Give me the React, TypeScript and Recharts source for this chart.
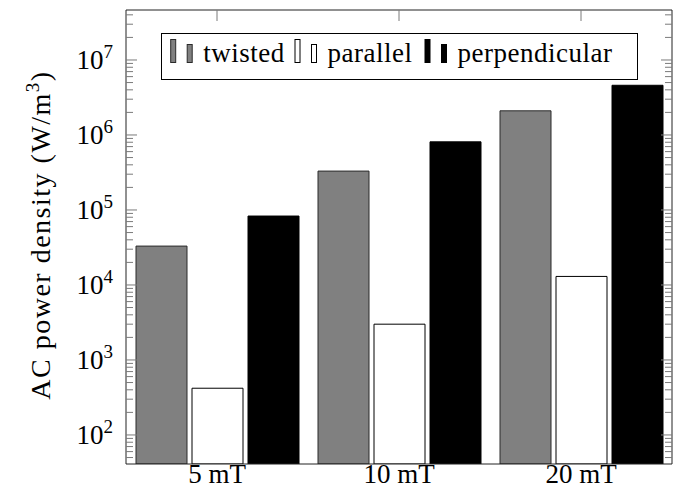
import React from 'react';
import { BarChart, Bar, XAxis, YAxis, Legend } from 'recharts';

const categories = ['5 mT', '10 mT', '20 mT'];
const twistedValues = [3.3e4, 3.3e5, 2.1e6];
const parallelValues = [420, 3.0e3, 1.3e4];
const perpendicularValues = [8.3e4, 8.1e5, 4.6e6];
const majorTicks = [1e2, 1e3, 1e4, 1e5, 1e6, 1e7];
const minorMantissas = [2, 3, 4, 5, 6, 7, 8, 9];
const tickDecades = [1e1, 1e2, 1e3, 1e4, 1e5, 1e6, 1e7];
const yDomain: [number, number] = [41, 4.64e7];

const seriesInfo = [
  { key: 'twisted', name: 'twisted', fill: '#808080', stroke: '#2a2a2a' },
  { key: 'parallel', name: 'parallel', fill: '#ffffff', stroke: '#000000' },
  { key: 'perpendicular', name: 'perpendicular', fill: '#000000', stroke: '#000000' },
];

const data = categories.map((c, i) => ({
  name: c,
  twisted: twistedValues[i],
  parallel: parallelValues[i],
  perpendicular: perpendicularValues[i],
}));

const minorTicks = tickDecades
  .flatMap((d) => minorMantissas.map((m) => m * d))
  .filter((v) => v > yDomain[0] && v < yDomain[1]);
const allTicks = [...majorTicks, ...minorTicks].sort((a, b) => a - b);

const W = 685;
const H = 496;
const MARGIN = { top: 9, right: 12, bottom: 0, left: 0 };
const Y_W = 126;
const X_H = 32;
const PLOT_LEFT = MARGIN.left + Y_W;
const PLOT_RIGHT = W - MARGIN.right - 1;
const PLOT_TOP = MARGIN.top + 1;
const FONT = 'Liberation Serif';
const TICK_COLOR = '#7a7a7a';
const AXIS_COLOR = '#222222';
const LEGEND_X = [9.7, 134, 264];

const YTick = (props: any) => {
  const { y, payload } = props;
  const v = payload.value;
  const isMajor = majorTicks.includes(v);
  const len = isMajor ? 11 : 7;
  const exp = Math.round(Math.log10(v));
  return (
    <g>
      <line x1={PLOT_LEFT} x2={PLOT_LEFT + len} y1={y} y2={y} stroke={TICK_COLOR} strokeWidth={1} />
      <line x1={PLOT_RIGHT - len} x2={PLOT_RIGHT} y1={y} y2={y} stroke={TICK_COLOR} strokeWidth={1} />
      {isMajor && (
        <text x={113} y={y + 9.5} textAnchor="end" fontSize={27} fontFamily={FONT} fill="#000">
          10
          <tspan dy={-11.5} fontSize={19}>
            {exp}
          </tspan>
        </text>
      )}
    </g>
  );
};

const XTick = (props: any) => {
  const { x, payload } = props;
  return (
    <text x={x} y={483} textAnchor="middle" fontSize={27} fontFamily={FONT} fill="#000">
      {payload.value}
    </text>
  );
};

const TopTick = (props: any) => {
  const { x } = props;
  return <line x1={x} x2={x} y1={PLOT_TOP} y2={PLOT_TOP + 11} stroke={TICK_COLOR} strokeWidth={1} />;
};

const YLabel = () => (
  <text
    transform="translate(49.5, 235) rotate(-90)"
    textAnchor="middle"
    fontSize={28}
    fontFamily={FONT}
    letterSpacing={1.5}
    fill="#000"
  >
    AC power density (W/m
    <tspan dy={-11} fontSize={19}>
      3
    </tspan>
    <tspan dy={11}>)</tspan>
  </text>
);

const LegendBox = () => (
  <svg width={478} height={48} style={{ display: 'block' }}>
    <rect x={0.5} y={0.5} width={476} height={46} fill="#fff" stroke="#000" strokeWidth={1} />
    {seriesInfo.map((s, i) => {
      const x0 = LEGEND_X[i];
      return (
        <g key={s.key}>
          <rect x={x0} y={6.5} width={5} height={23} fill={s.fill} stroke={s.stroke} strokeWidth={1} />
          <rect x={x0 + 16.5} y={11.5} width={5} height={18} fill={s.fill} stroke={s.stroke} strokeWidth={1} />
          <text x={x0 + 32.5} y={29.3} fontSize={27} fontFamily={FONT} letterSpacing={0.5} fill="#000">
            {s.name}
          </text>
        </g>
      );
    })}
  </svg>
);

export default function App() {
  return (
    <div style={{ position: 'absolute', left: 0, top: 0, width: W, height: H, background: '#fff' }}>
      <BarChart width={W} height={H} data={data} margin={MARGIN} barGap={5} barSize={51}>
        <XAxis
          dataKey="name"
          height={X_H}
          tick={<XTick />}
          tickLine={false}
          axisLine={{ stroke: AXIS_COLOR, strokeWidth: 1 }}
          interval={0}
        />
        <XAxis
          xAxisId="top"
          dataKey="name"
          orientation="top"
          height={1}
          tick={<TopTick />}
          tickLine={false}
          axisLine={{ stroke: AXIS_COLOR, strokeWidth: 1 }}
          interval={0}
        />
        <YAxis
          type="number"
          scale="log"
          domain={yDomain}
          allowDataOverflow
          ticks={allTicks}
          interval={0}
          width={Y_W}
          tick={<YTick />}
          tickLine={false}
          axisLine={{ stroke: AXIS_COLOR, strokeWidth: 1 }}
          label={<YLabel />}
        />
        <YAxis
          yAxisId="right"
          orientation="right"
          type="number"
          scale="log"
          domain={yDomain}
          allowDataOverflow
          width={1}
          tick={false}
          tickLine={false}
          axisLine={{ stroke: AXIS_COLOR, strokeWidth: 1 }}
        />
        <Legend
          layout="horizontal"
          verticalAlign="middle"
          align="center"
          content={() => <LegendBox />}
          wrapperStyle={{ position: 'absolute', left: 161, top: 33, width: 478, height: 48 }}
        />
        {seriesInfo.map((s) => (
          <Bar
            key={s.key}
            dataKey={s.key}
            name={s.name}
            fill={s.fill}
            stroke={s.stroke}
            strokeWidth={1}
            isAnimationActive={false}
          />
        ))}
      </BarChart>
    </div>
  );
}
